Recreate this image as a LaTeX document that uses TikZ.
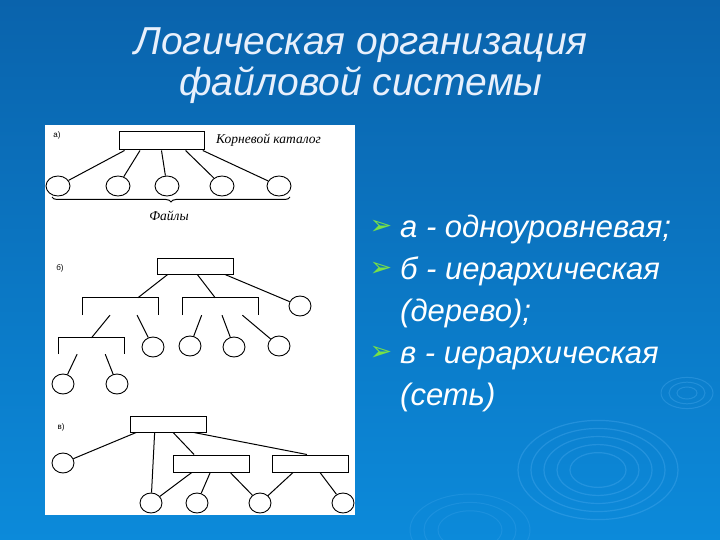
\documentclass[tikz,border=0pt]{standalone}
\usepackage{fontspec}
\setmainfont{Liberation Sans}
\newfontfamily\catfont{Liberation Serif}
\newfontfamily\symfont{DejaVu Sans}
\usepackage{tikz}
\usetikzlibrary{shapes.geometric,calc,decorations.pathreplacing}
\definecolor{slidetop}{RGB}{10,99,172}
\definecolor{slidebot}{RGB}{12,138,218}
\definecolor{ripple}{RGB}{90,180,245}
\definecolor{titlewhite}{RGB}{232,240,252}
\definecolor{bulletgreen}{RGB}{120,225,70}

\tikzset{
  catbox/.style={draw, line width=1pt, fill=white, minimum width=76pt, minimum height=16pt, inner sep=0pt},
  fork/.style={minimum width=75pt, minimum height=17pt, inner sep=0pt},
  filecirc/.style={draw, ellipse, line width=0.9pt, minimum width=22pt, minimum height=20pt, inner sep=0pt},
  link/.style={line width=1pt},
  partlbl/.style={font=\fontsize{8}{9}\selectfont, inner sep=0pt},
  catlbl/.style={font=\catfont\itshape\fontsize{13.5}{15}\selectfont, inner sep=0pt},
  itemtext/.style={text=white, anchor=base west, inner sep=0pt,
    font=\itshape\fontsize{31}{37}\selectfont},
  bullet/.style={text=bulletgreen, font=\symfont\fontsize{27}{27}\selectfont, inner sep=0pt},
}

\begin{document}
\begin{tikzpicture}[x=1pt, y=-1pt]
    \useasboundingbox (0,0) rectangle (720,540);

    % Slide background
    \shade[top color=slidetop, bottom color=slidebot] (0,0) rectangle (720,540);
    \foreach \r in {80,67,54,41,28}
        \draw[ripple, opacity=0.3, line width=1.2pt] (598,470) ellipse ({\r pt} and {0.62*\r pt});
    \foreach \r in {26,18,10}
        \draw[ripple, opacity=0.3, line width=1pt] (687,393) ellipse ({\r pt} and {0.6*\r pt});
    \foreach \r in {60,46,32}
        \draw[ripple, opacity=0.2, line width=1pt] (470,530) ellipse ({\r pt} and {0.6*\r pt});

    % Title
    \node[text=titlewhite, align=center, font=\itshape\fontsize{39}{41}\selectfont] (title) at (361,66)
        {Логическая организация\\файловой системы};

    % Diagram panel
    \fill[white] (45,125) rectangle (355,515);

    % a) one-level catalogue
    \node[partlbl] (alabel) at (57,135) {а)};
    \node[catbox, minimum width=85pt, minimum height=18pt] (aroot) at (161.5,141) {};
    \node[catlbl, anchor=west] (arootlbl) at (216,140) {Корневой каталог};
    \node[filecirc, minimum width=24pt] (af1) at (58,186) {};
    \node[filecirc, minimum width=24pt] (af2) at (118,186) {};
    \node[filecirc, minimum width=24pt] (af3) at (167,186) {};
    \node[filecirc, minimum width=24pt] (af4) at (222,186) {};
    \node[filecirc, minimum width=24pt] (af5) at (279,186) {};
    \draw[link] ($(aroot.south west)!.07!(aroot.south east)$) -- (af1);
    \draw[link] ($(aroot.south west)!.25!(aroot.south east)$) -- (af2);
    \draw[link] ($(aroot.south west)!.50!(aroot.south east)$) -- (af3);
    \draw[link] ($(aroot.south west)!.78!(aroot.south east)$) -- (af4);
    \draw[link] ($(aroot.south west)!.98!(aroot.south east)$) -- (af5);
    \coordinate (abrl) at (52,197);
    \coordinate (abrr) at (290,197);
    \draw[link, decorate, decoration={brace, mirror, amplitude=5pt}] (abrl) -- (abrr);
    \node[catlbl] (afiles) at (169,216) {Файлы};

    % b) hierarchy (tree)
    \node[partlbl] (blabel) at (60,268) {б)};
    \node[catbox] (broot) at (195,266) {};
    \node[fork] (bfl) at (120.5,306.5) {};
    \node[fork] (bfm) at (220.5,306.5) {};
    \node[fork, minimum width=65pt, minimum height=16pt] (bfs) at (91.5,346) {};
    \draw[link] (bfl.south west) -- (bfl.north west) -- (bfl.north east) -- (bfl.south east);
    \draw[link] (bfm.south west) -- (bfm.north west) -- (bfm.north east) -- (bfm.south east);
    \draw[link] (bfs.south west) -- (bfs.north west) -- (bfs.north east) -- (bfs.south east);
    \node[filecirc] (bf1) at (300,306) {};
    \node[filecirc] (bf2) at (153,347) {};
    \node[filecirc] (bf3) at (190,346) {};
    \node[filecirc] (bf4) at (234,347) {};
    \node[filecirc] (bf5) at (279,346) {};
    \node[filecirc] (bf6) at (63,384) {};
    \node[filecirc] (bf7) at (117,384) {};
    \draw[link] ($(broot.south west)!.145!(broot.south east)$) -- ($(bfl.north west)!.73!(bfl.north east)$);
    \draw[link] ($(broot.south west)!.53!(broot.south east)$) -- ($(bfm.north west)!.43!(bfm.north east)$);
    \draw[link] ($(broot.south west)!.89!(broot.south east)$) -- (bf1);
    \draw[link] ($(bfl.south west)!.36!(bfl.south east)$) -- ($(bfs.north west)!.5!(bfs.north east)$);
    \draw[link] ($(bfl.south west)!.72!(bfl.south east)$) -- (bf2);
    \draw[link] ($(bfm.south west)!.25!(bfm.south east)$) -- (bf3);
    \draw[link] ($(bfm.south west)!.52!(bfm.south east)$) -- (bf4);
    \draw[link] ($(bfm.south west)!.79!(bfm.south east)$) -- (bf5);
    \draw[link] ($(bfs.south west)!.28!(bfs.south east)$) -- (bf6);
    \draw[link] ($(bfs.south west)!.71!(bfs.south east)$) -- (bf7);

    % c) hierarchy (network)
    \node[partlbl] (vlabel) at (61,427) {в)};
    \node[catbox] (vroot) at (168.5,424) {};
    \node[catbox, minimum height=17pt] (vmid) at (211,463.5) {};
    \node[catbox, minimum height=17pt] (vright) at (310,463.5) {};
    \node[filecirc] (vf1) at (63,463) {};
    \node[filecirc] (vf2) at (151,503) {};
    \node[filecirc] (vf3) at (197,503) {};
    \node[filecirc] (vf4) at (260,503) {};
    \node[filecirc] (vf5) at (343,503) {};
    \draw[link] ($(vroot.south west)!.08!(vroot.south east)$) -- (vf1);
    \draw[link] ($(vroot.south west)!.32!(vroot.south east)$) -- (vf2);
    \draw[link] ($(vroot.south west)!.56!(vroot.south east)$) -- ($(vmid.north west)!.28!(vmid.north east)$);
    \draw[link] ($(vroot.south west)!.83!(vroot.south east)$) -- ($(vright.north west)!.46!(vright.north east)$);
    \draw[link] ($(vmid.south west)!.25!(vmid.south east)$) -- (vf2);
    \draw[link] ($(vmid.south west)!.49!(vmid.south east)$) -- (vf3);
    \draw[link] ($(vmid.south west)!.75!(vmid.south east)$) -- (vf4);
    \draw[link] ($(vright.south west)!.28!(vright.south east)$) -- (vf4);
    \draw[link] ($(vright.south west)!.63!(vright.south east)$) -- (vf5);

    % Items
    \node[bullet] (ba) at (381,227) {➢};
    \node[itemtext] (ia) at (400,237) {а - одноуровневая;};
    \node[bullet] (bb) at (381,269) {➢};
    \node[itemtext] (ib) at (400,279) {б - иерархическая};
    \node[itemtext] (ib2) at (400,321) {(дерево);};
    \node[bullet] (bc) at (381,353) {➢};
    \node[itemtext] (ic) at (400,363) {в - иерархическая};
    \node[itemtext] (ic2) at (400,405) {(сеть)};
\end{tikzpicture}
\end{document}
